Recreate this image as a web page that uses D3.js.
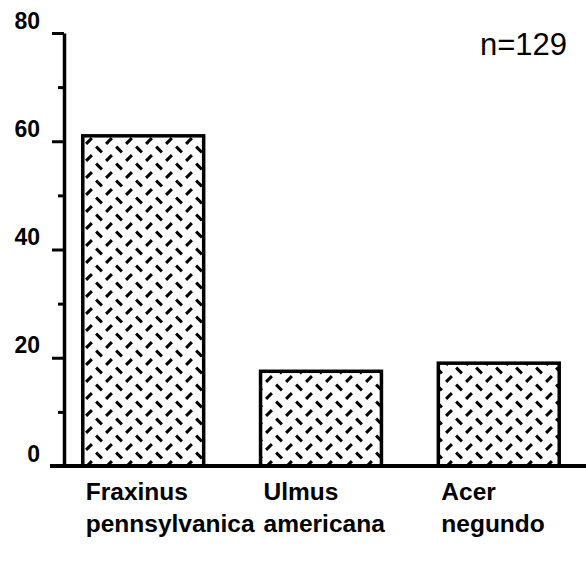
<!DOCTYPE html>
<html>
<head>
<meta charset="utf-8">
<script src="https://cdn.jsdelivr.net/npm/d3@7"></script>
<style>
  body { margin: 0; background: #fff; }
  svg { display: block; }
  text { font-family: "Liberation Sans", Arial, Helvetica, sans-serif; fill: #000; }
</style>
</head>
<body>
<svg id="chart" width="586" height="561"></svg>
<script>
// Tree species and share of trees (%) for each
const categories = ["Fraxinus pennsylvanica", "Ulmus americana", "Acer negundo"];
const percents = [61, 17.5, 19];
const majorTicks = [0, 20, 40, 60, 80];
const minorTicks = [10, 30, 50, 70];
const sampleLabel = "n=129";

const svg = d3.select("#chart");
const W = 586;

const x = d3.scaleBand()
  .domain(categories)
  .range([65, 577])
  .paddingInner(0.32)
  .paddingOuter(0.1);

const y = d3.scaleLinear().domain([0, 80]).range([466, 33]);

// Hatch fill: rows of "/" dashes alternating with offset rows of "\" dashes
const defs = svg.append("defs");
const pat = defs.append("pattern")
  .attr("id", "dash")
  .attr("patternUnits", "userSpaceOnUse")
  .attr("x", 83).attr("y", 136)
  .attr("width", 20).attr("height", 17);
pat.append("rect").attr("width", 20).attr("height", 17).attr("fill", "#fff");
const d = 2.9;
const sw = 3;
[[6, 5, 1], [16, 13.5, -1], [16, 13.5 - 17, -1]].forEach(([cx, cy, s]) => {
  pat.append("line")
    .attr("x1", cx - d).attr("y1", cy + s * d)
    .attr("x2", cx + d).attr("y2", cy - s * d)
    .attr("stroke", "#000").attr("stroke-width", sw);
});

// Bars
svg.append("g").selectAll("rect")
  .data(categories)
  .join("rect")
  .attr("x", c => x(c))
  .attr("y", (c, i) => y(percents[i]))
  .attr("width", x.bandwidth())
  .attr("height", (c, i) => y(0) - y(percents[i]))
  .attr("fill", "url(#dash)")
  .attr("stroke", "#000")
  .attr("stroke-width", 3.5);

// Y axis with major and minor ticks
const yAxis = svg.append("g")
  .attr("transform", "translate(64,0)")
  .call(d3.axisLeft(y).tickValues(majorTicks).tickSize(12).tickSizeOuter(0).tickPadding(12));
yAxis.select(".domain").attr("stroke-width", 3.5);
yAxis.selectAll(".tick line").attr("stroke-width", 3);
yAxis.selectAll(".tick text")
  .attr("dy", 0).attr("y", -5)
  .style("font-size", "23px").style("font-weight", "bold");

const yMinor = svg.append("g")
  .attr("transform", "translate(64,0)")
  .call(d3.axisLeft(y).tickValues(minorTicks).tickSize(6).tickFormat(""));
yMinor.select(".domain").remove();
yMinor.selectAll(".tick line").attr("stroke-width", 3);

// Baseline running to the right edge
svg.append("line")
  .attr("x1", 50).attr("x2", W)
  .attr("y1", y(0)).attr("y2", y(0))
  .attr("stroke", "#000").attr("stroke-width", 4);

// Species names, two lines, left-aligned under each bar
const lab = svg.append("g").selectAll("text")
  .data(categories)
  .join("text")
  .attr("x", c => x(c) + 3)
  .attr("y", 500)
  .style("font-size", "24.5px").style("font-weight", "bold");
lab.each(function(c) {
  const parts = c.split(" ");
  const t = d3.select(this);
  parts.forEach((p, i) => {
    t.append("tspan").attr("x", x(c) + 3).attr("dy", i === 0 ? 0 : 32).text(p);
  });
});

// Sample size
svg.append("text")
  .attr("x", 567).attr("y", 55)
  .attr("text-anchor", "end")
  .style("font-size", "31px")
  .text(sampleLabel);
</script>
</body>
</html>
